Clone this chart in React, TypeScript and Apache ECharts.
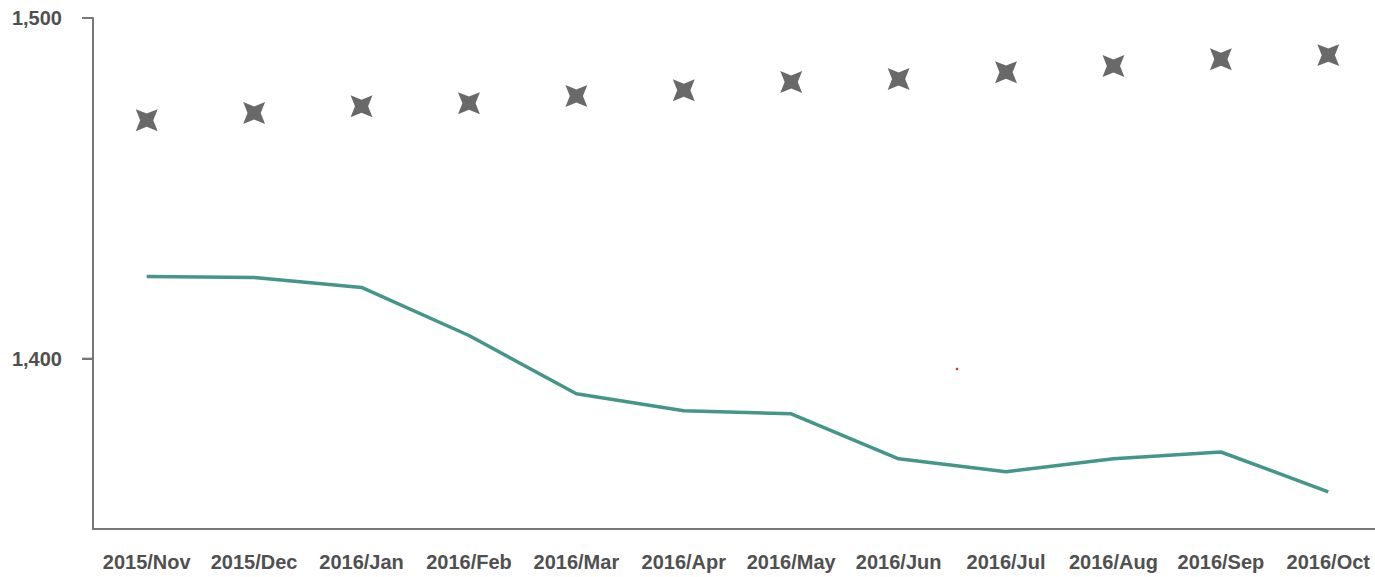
import React, { useEffect, useRef } from "react";
import * as echarts from "echarts";

const categories = [
  "2015/Nov", "2015/Dec", "2016/Jan", "2016/Feb", "2016/Mar", "2016/Apr",
  "2016/May", "2016/Jun", "2016/Jul", "2016/Aug", "2016/Sep", "2016/Oct",
];
const lineValues = [1424.1, 1423.8, 1420.9, 1406.8, 1389.7, 1384.7, 1383.8, 1370.6, 1366.8, 1370.6, 1372.6, 1360.9];
const starValues = [1470, 1472.1, 1474.1, 1475, 1477.1, 1478.8, 1481.2, 1482.1, 1484.1, 1485.9, 1487.9, 1489.1];
const yTicks = [1400, 1500];

const starPath =
  "path://M0,-10 L3,-3 L10,0 L3,3 L0,10 L-3,3 L-10,0 L-3,-3 Z";

const GRID_LEFT = 93;

export default function App() {
  const ref = useRef<HTMLDivElement>(null);
  useEffect(() => {
    document.body.style.margin = "0";
    const chart = echarts.init(ref.current!, null, { renderer: "svg" });
    const labelStyle = {
      color: "#505050",
      fontFamily: "Liberation Sans, Arial, sans-serif",
      fontWeight: "bold" as const,
      fontSize: 20,
    };
    chart.setOption({
      animation: false,
      backgroundColor: "#fff",
      grid: { left: GRID_LEFT, top: 18, bottom: 48, right: 8, containLabel: false },
      xAxis: {
        type: "category",
        data: categories,
        boundaryGap: true,
        axisLine: { lineStyle: { color: "#777", width: 2 } },
        axisTick: { alignWithLabel: true, length: 8, lineStyle: { color: "#777", width: 2 } },
        axisLabel: { ...labelStyle, margin: 23, interval: 0 },
        splitLine: { show: false },
      },
      yAxis: {
        type: "value",
        min: 1350,
        max: 1500,
        axisLine: { show: true, lineStyle: { color: "#777", width: 2 } },
        axisTick: { show: true, length: 11, customValues: yTicks, lineStyle: { color: "#777", width: 2 } },
        axisLabel: {
          ...labelStyle,
          margin: 31,
          customValues: yTicks,
          formatter: (v: number) => v.toLocaleString("en-US"),
        },
        splitLine: { show: false },
      },
      series: [
        {
          type: "line",
          data: lineValues,
          symbol: "none",
          lineStyle: { color: "#45958b", width: 3.5 },
        },
        {
          type: "scatter",
          data: starValues,
          symbol: starPath,
          symbolSize: 31,
          symbolRotate: 45,
          itemStyle: { color: "#444" },
        },
        {
          type: "custom",
          clip: false,
          silent: true,
          z: 10,
          data: yTicks.map((v) => [0, v]),
          encode: { x: 0, y: 1 },
          renderItem: (params: any, api: any) => {
            const p = api.coord([0, api.value(1)]);
            const left = params.coordSys.x;
            return {
              type: "line",
              shape: { x1: left - 11, y1: p[1], x2: left, y2: p[1] },
              style: { stroke: "#777", lineWidth: 2 },
            };
          },
        },
      ],
      graphic: [
        { type: "circle", shape: { cx: 957, cy: 369, r: 1.3 }, style: { fill: "#e0303a" } },
      ],
    });
    return () => chart.dispose();
  }, []);
  return (
    <div style={{ width: 1375, height: 577, overflow: "hidden" }}>
      <div ref={ref} style={{ width: 1390, height: 577 }} />
    </div>
  );
}
